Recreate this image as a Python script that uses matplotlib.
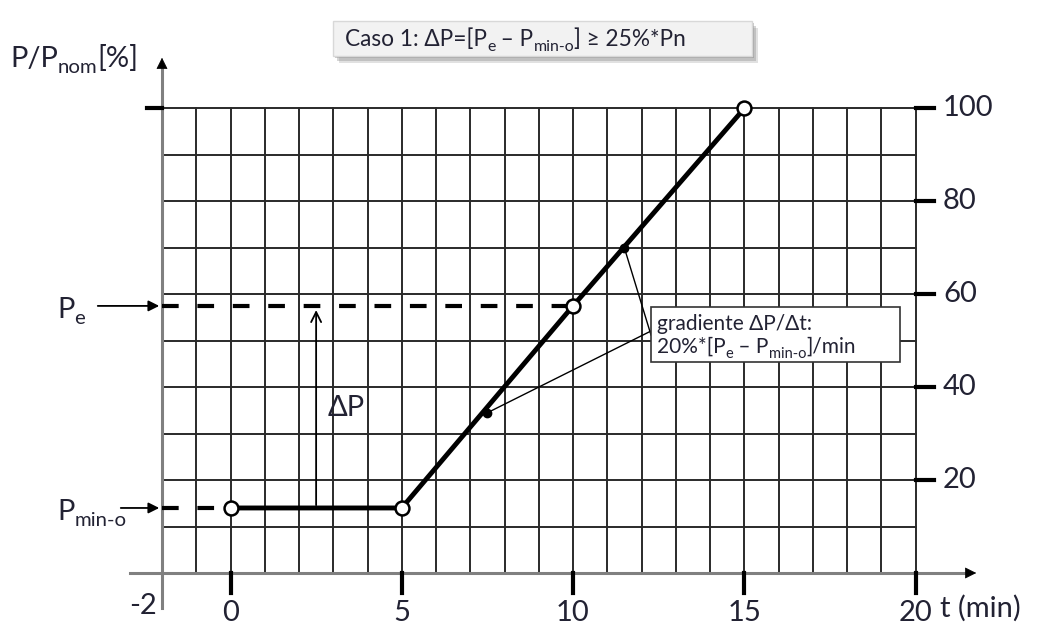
import numpy as np
import matplotlib
matplotlib.use("Agg")
import matplotlib.pyplot as plt
import matplotlib.transforms as mtransforms
from matplotlib.patches import Rectangle

plt.rcParams['font.family'] = ['Lato', 'DejaVu Sans']

# data
t_pts = [0, 5, 10, 15]            # min
p_pts = [14, 14, 57.5, 100]       # % of Pnom
grad_t = [7.5, 11.5]              # the two small dots on the ramp
grad_p = [34.5, 70]
p_min = 14
p_e = 57.5
x_ticks = [0, 5, 10, 15, 20]
y_ticks = [20, 40, 60, 80, 100]
grid_x = list(range(-2, 21))
grid_y = list(range(0, 101, 10))

txt = '#222233'

# pixel -> data helpers (picture is 1052x626, 0 at x=230px, y=573px)
def tx(px):
    return (px - 230.5) / 34.25

def vy(py):
    return (573 - py) / 4.645

fig = plt.figure(figsize=(10.52, 6.26), dpi=100)
ax = fig.add_axes([0, 0, 1, 1])
ax.set_xlim(tx(0), tx(1052))
ax.set_ylim(vy(626), vy(0))
ax.axis('off')
rend = fig.canvas.get_renderer()

# text with subscripts, drawn piece by piece
def rich(x, y, parts, size, z=8):
    dx = 0
    for s, sub in parts:
        fs = size * 0.7 if sub else size
        dy = -size * 0.22 if sub else 0
        tr = mtransforms.offset_copy(ax.transData, fig=fig, x=dx, y=dy, units='points')
        t = ax.text(x, y, s, fontsize=fs, color=txt, ha='left', va='baseline',
                    transform=tr, zorder=z)
        dx += t.get_window_extent(renderer=rend).width * 72 / fig.dpi

# grid
for g in grid_x:
    ax.plot([g, g], [0, 100], color='#2a2a2a', lw=1.4, zorder=1)
for g in grid_y:
    ax.plot([-2, 20], [g, g], color='#2a2a2a', lw=1.4, zorder=1)

# axes with arrows
ax.plot([-2, -2], [vy(608), vy(66)], color='#808080', lw=2.2, zorder=2)
ax.annotate('', xy=(-2, vy(55)), xytext=(-2, vy(68)),
            arrowprops=dict(arrowstyle='-|>', color='black', lw=0.5, mutation_scale=18))
ax.plot([tx(130), tx(966)], [0, 0], color='#808080', lw=2.2, zorder=2)
ax.annotate('', xy=(tx(979), 0), xytext=(tx(964), 0),
            arrowprops=dict(arrowstyle='-|>', color='black', lw=0.5, mutation_scale=18))

# ticks
ax.plot([tx(147), -2], [100, 100], color='black', lw=3, zorder=3)
for v in y_ticks:
    ax.plot([20, tx(934)], [v, v], color='black', lw=3, zorder=3)
    ax.text(tx(943), v, str(v), fontsize=21, color=txt, ha='left', va='center')
for t in x_ticks:
    ax.plot([t, t], [0, vy(593)], color='black', lw=3, zorder=3)
    ax.text(t, vy(626), str(t), fontsize=21, color=txt, ha='center', va='bottom')
ax.text(tx(157), vy(619), '-2', fontsize=21, color=txt, ha='right', va='bottom')
ax.text(tx(940), vy(622), 't (min)', fontsize=21, color=txt, ha='left', va='bottom')

# dashed reference levels
ax.plot([-2, t_pts[2]], [p_e, p_e], color='black', lw=3, ls=(0, (4, 4.5)), zorder=3)
ax.plot([-2, t_pts[0]], [p_min, p_min], color='black', lw=3, ls=(0, (4, 4.5)), zorder=3)

# main curve
ax.plot(t_pts, p_pts, color='black', lw=3.5, zorder=4)
ax.plot(t_pts, p_pts, 'o', ms=10, mfc='white', mec='black', mew=1.8, zorder=5)
ax.plot(grad_t, grad_p, 'o', ms=6, color='black', zorder=5)

# level arrows and labels
ax.annotate('', xy=(-2, p_e), xytext=(tx(95), p_e),
            arrowprops=dict(arrowstyle='-|>', color='black', lw=1.3, mutation_scale=16))
ax.annotate('', xy=(-2, p_min), xytext=(tx(118), p_min),
            arrowprops=dict(arrowstyle='-|>', color='black', lw=1.3, mutation_scale=16))
rich(tx(57), vy(318), [('P', False), ('e', True)], 21)
rich(tx(57), vy(520), [('P', False), ('min-o', True)], 21)
rich(tx(10), vy(67), [('P/P', False), ('nom', True), ('[%]', False)], 21)

# delta P arrow
ax.annotate('', xy=(2.5, p_e - 0.3), xytext=(2.5, p_min),
            arrowprops=dict(arrowstyle='->', color='black', lw=1.3, mutation_scale=18))
ax.text(tx(328), vy(416), 'ΔP', fontsize=21, color=txt, ha='left', va='baseline')

# gradient note with leader lines
bx0, bx1, by0, by1 = tx(651), tx(900), vy(362), vy(307)
for t, p, ey in zip(grad_t, grad_p, [vy(331), vy(335)]):
    ax.plot([t, bx0], [p, ey], color='black', lw=1, zorder=4)
ax.add_patch(Rectangle((bx0, by0), bx1 - bx0, by1 - by0, facecolor='white',
                       edgecolor='#333333', lw=1.2, zorder=6))
ax.text(tx(657), vy(330), 'gradiente ΔP/Δt:', fontsize=15, color=txt,
        ha='left', va='baseline', zorder=7)
rich(tx(657), vy(353), [('20%*[P', False), ('e', True), (' – P', False),
                        ('min-o', True), (']/min', False)], 15)

# title box with shadow
cx0, cx1, cy0, cy1 = tx(333), tx(752), vy(56), vy(21)
for k, a in [(3, 0.25), (2, 0.35), (1, 0.45)]:
    ax.add_patch(Rectangle((cx0 + k * 0.06, cy0 - k * 0.5), cx1 - cx0, cy1 - cy0,
                           facecolor='#888888', edgecolor='none', alpha=a, zorder=6))
ax.add_patch(Rectangle((cx0, cy0), cx1 - cx0, cy1 - cy0, facecolor='#f2f2f2',
                       edgecolor='#d8d8d8', lw=1, zorder=7))
rich(tx(345), vy(46), [('Caso 1: ΔP=[P', False), ('e', True), (' – P', False),
                       ('min-o', True), ('] ≥ 25%*Pn', False)], 16.3)

fig.savefig('out.png', dpi=100)
